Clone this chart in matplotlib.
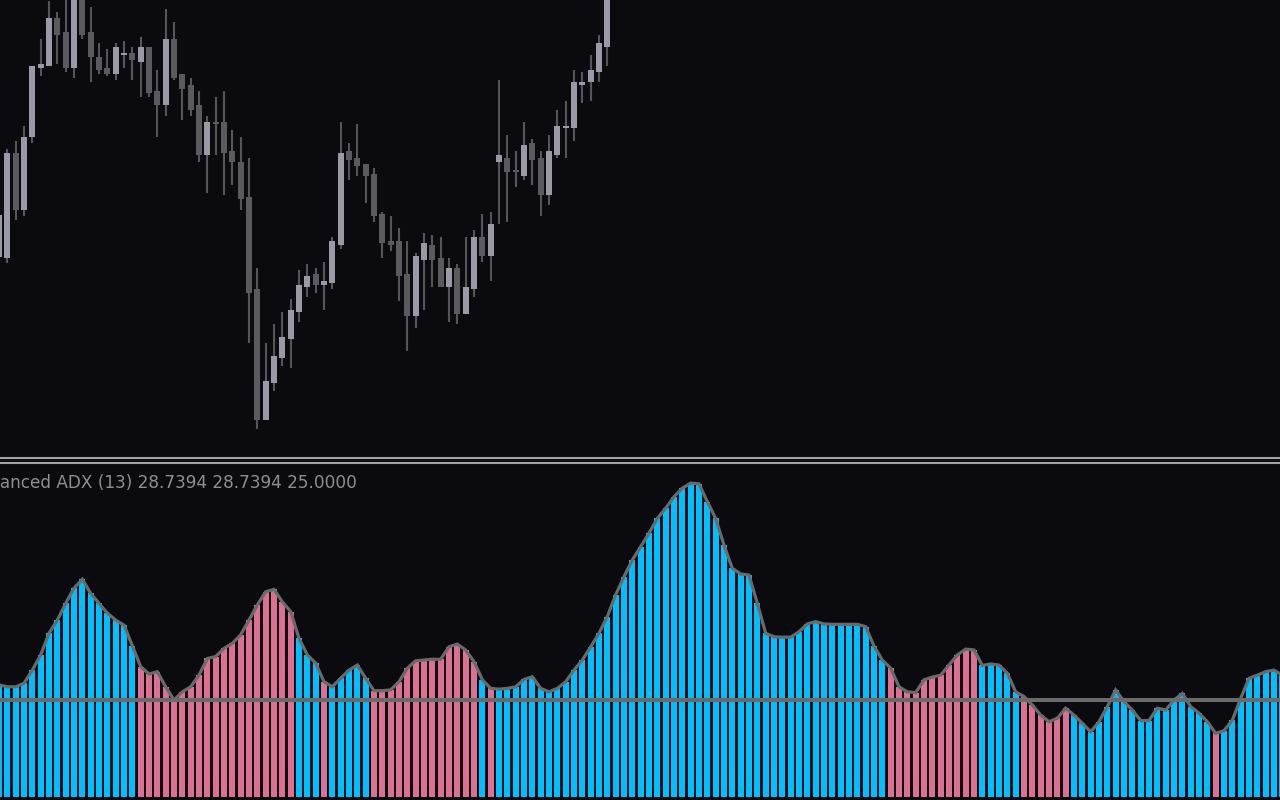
import matplotlib
matplotlib.use("Agg")
import matplotlib.pyplot as plt
from matplotlib.lines import Line2D
import numpy as np

# ---------------- data ----------------
# Candles (price points), index = bar position from the left edge
candle_open = [200, 199, 304, 247, 320, 389, 391, 439, 425, 389,
               462, 425, 400, 389, 383, 402, 404, 395, 410, 366,
               352, 418, 383, 372, 352, 302, 335, 335, 306, 295,
               260, 168, 37, 74, 99, 118, 145, 170, 183, 172,
               174, 212, 306, 299, 293, 283, 243, 216, 216, 183,
               141, 197, 212, 199, 170, 189, 143, 168, 220, 201,
               295, 299, 287, 281, 314, 299, 262, 302, 329, 329,
               372, 375, 385, 410]
candle_high = [242, 308, 316, 331, 391, 418, 456, 445, 462, 472,
               469, 450, 414, 408, 414, 416, 410, 420, 410, 387,
               448, 435, 383, 379, 366, 341, 360, 366, 327, 320,
               299, 189, 114, 133, 145, 158, 187, 193, 189, 195,
               220, 335, 314, 333, 293, 289, 245, 241, 229, 216,
               204, 224, 222, 220, 199, 193, 220, 227, 243, 245,
               377, 322, 306, 335, 318, 306, 322, 347, 356, 387,
               385, 402, 422, 477]
candle_low = [200, 194, 237, 241, 314, 381, 391, 393, 385, 379,
              418, 375, 383, 381, 377, 389, 377, 360, 360, 320,
              341, 377, 337, 341, 295, 264, 302, 262, 272, 247,
              114, 28, 37, 66, 91, 89, 135, 160, 164, 147,
              168, 208, 277, 281, 254, 235, 199, 206, 156, 106,
              129, 147, 170, 170, 135, 133, 143, 160, 195, 176,
              233, 235, 270, 277, 272, 241, 252, 299, 299, 316,
              354, 356, 375, 391]
candle_close = [242, 304, 247, 320, 391, 393, 439, 422, 389, 465,
                422, 400, 387, 383, 410, 404, 397, 410, 364, 352,
                418, 379, 368, 347, 302, 335, 333, 304, 295, 258,
                164, 37, 76, 101, 120, 147, 172, 181, 172, 176,
                216, 304, 297, 291, 281, 241, 214, 212, 181, 141,
                201, 214, 197, 170, 189, 143, 170, 220, 201, 233,
                302, 285, 285, 312, 297, 262, 306, 331, 331, 375,
                375, 387, 414, 467]

# Advanced ADX (13) histogram values
adx = [28.9, 28.4, 28.4, 29.3, 32.7, 36.6, 42.2, 45.6, 49.9, 53.8,
       56.1, 52.5, 49.9, 47.4, 45.6, 44.3, 39.0, 33.6, 31.7, 32.3,
       28.4, 25.0, 27.1, 28.4, 31.4, 35.7, 36.2, 38.3, 39.6, 41.8,
       45.6, 49.5, 52.9, 53.5, 50.3, 47.8, 40.9, 36.6, 34.5, 29.7,
       28.4, 30.6, 32.7, 34.0, 30.6, 27.4, 27.4, 27.6, 29.7, 33.2,
       35.1, 35.3, 35.5, 35.5, 38.7, 39.4, 37.9, 34.9, 30.2, 28.0,
       27.8, 28.0, 28.4, 30.3, 31.0, 28.0, 27.1, 28.0, 29.7, 32.7,
       35.3, 38.7, 42.2, 46.5, 52.1, 56.8, 61.1, 64.5, 68.0, 71.8,
       74.4, 77.4, 79.6, 80.9, 80.7, 76.1, 71.8, 64.9, 58.9, 57.5,
       57.2, 49.9, 42.2, 41.3, 41.2, 41.2, 42.6, 44.6, 45.2, 44.6,
       44.5, 44.5, 44.5, 44.5, 43.9, 38.9, 35.3, 33.2, 28.4, 27.1,
       26.9, 30.2, 30.9, 31.4, 34.0, 36.6, 38.1, 37.9, 33.9, 34.3,
       34.0, 31.9, 27.1, 25.9, 23.7, 21.1, 19.4, 20.3, 22.9, 21.1,
       19.0, 16.8, 19.4, 23.3, 27.6, 24.6, 22.4, 19.7, 19.7, 22.9,
       22.4, 25.0, 26.7, 23.3, 21.6, 19.4, 16.4, 17.1, 19.8, 25.4,
       30.6, 31.4, 32.3, 32.7, 31.4]

# trend of each histogram bar as run lengths: (1 = up / blue, 0 = down / pink, count)
trend_runs = [(1, 17), (0, 19), (1, 3), (0, 1), (1, 5), (0, 13), (1, 1), (0, 1),
              (1, 47), (0, 11), (1, 5), (0, 6), (1, 17), (0, 1), (1, 8)]

level = 25.0
title = "Advanced ADX (13) 28.7394 28.7394 25.0000"

# ---------------- styling ----------------
BG = "#0a0a0f"
BULL = "#9a9aa6"
BEAR = "#5a5a5f"
WICK = "#55555a"
UP = "#00bfff"
DOWN = "#db7093"
LINE = "#6a6a6a"
SEP = "#a2a2a8"

W, H = 1280, 800
fig = plt.figure(figsize=(W / 100, H / 100), dpi=100, facecolor=BG)

spacing = 1280 / 153.6
xlim = (1 / spacing, 1281 / spacing)

# top price panel: pixel rows 0..457
ax1 = fig.add_axes([0, (H - 457) / H, 1, 457 / H])
ax1.set_facecolor(BG)
ax1.set_xlim(*xlim)
ax1.set_ylim(0, 457)
ax1.axis("off")

xs = np.arange(len(candle_open))
o = np.array(candle_open, float)
c = np.array(candle_close, float)
hi = np.array(candle_high, float)
lo = np.array(candle_low, float)
ax1.vlines(xs, lo, hi, color=WICK, lw=1.5, zorder=1)
bull = c >= o
body_lo = np.minimum(o, c)
body_h = np.maximum(np.abs(c - o), 1.5)
ax1.bar(xs[bull], body_h[bull], bottom=body_lo[bull], width=0.72,
        color=BULL, linewidth=0, zorder=2)
ax1.bar(xs[~bull], body_h[~bull], bottom=body_lo[~bull], width=0.72,
        color=BEAR, linewidth=0, zorder=2)

# indicator panel: pixel rows 464..800, value 0 at row 797
ppu = 3.88
ax2 = fig.add_axes([0, 0, 1, (H - 464) / H])
ax2.set_facecolor(BG)
ax2.set_xlim(*xlim)
ax2.set_ylim(-3 / ppu, (797 - 464) / ppu)
ax2.axis("off")

trend = []
for t, n in trend_runs:
    trend += [t] * n
trend = np.array(trend[:len(adx)])
ix = np.arange(len(adx))
vals = np.array(adx)
ax2.bar(ix[trend == 1], vals[trend == 1], width=0.72, color=UP, linewidth=0, zorder=1)
ax2.bar(ix[trend == 0], vals[trend == 0], width=0.72, color=DOWN, linewidth=0, zorder=1)
ax2.axhline(level, color=LINE, lw=2.9, zorder=2)
ax2.plot(ix, vals, color=LINE, lw=2.3, zorder=3, solid_joinstyle="miter")

# separator lines
for yy, lw in ((458.3, 1.5), (463, 1.5)):
    fig.add_artist(Line2D([0, 1], [(H - yy) / H] * 2, transform=fig.transFigure,
                          color=SEP, lw=lw))

# indicator title, left part clipped by the window edge (as in the reference)
fs = 12.2
fig.canvas.draw()
r = fig.canvas.get_renderer()
tmp = fig.text(0, 0, "Adv", fontsize=fs, family="DejaVu Sans")
wcut = tmp.get_window_extent(r).width
tmp.remove()
fig.text(-wcut / W, (H - 488) / H, title, fontsize=fs, family="DejaVu Sans",
         color="#8e8e96", va="baseline", ha="left")

fig.savefig("out.png", dpi=100, facecolor=BG)
